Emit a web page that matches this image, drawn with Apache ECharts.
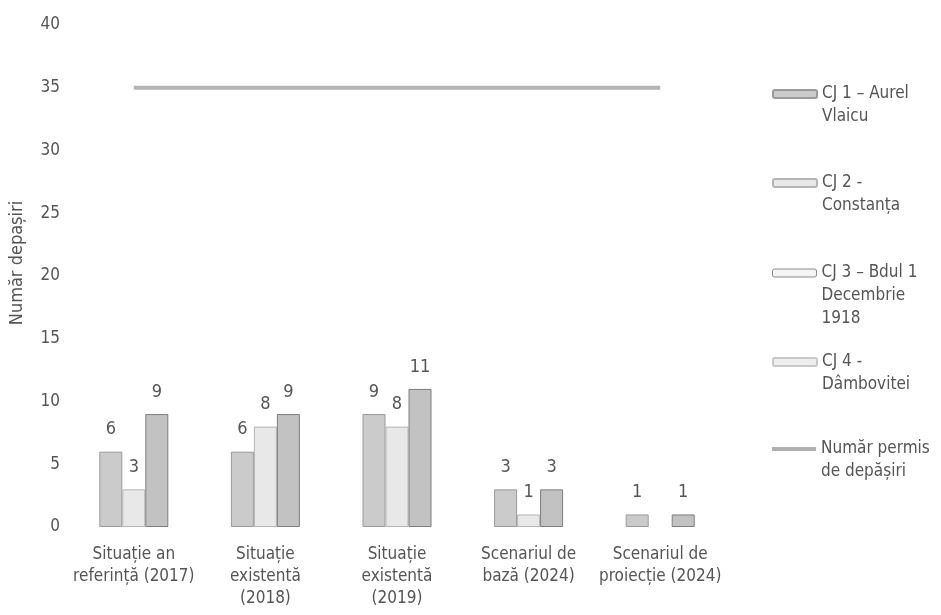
<!DOCTYPE html>
<html>
<head>
<meta charset="utf-8">
<script src="https://cdn.jsdelivr.net/npm/echarts@6/dist/echarts.min.js"></script>
<style>
  html, body { margin: 0; padding: 0; background: #fff; }
  #chart { width: 941px; height: 615px; }
</style>
</head>
<body>
<div id="chart"></div>
<script>
// ---- data ----
const categories = [
  'Situație an\nreferință (2017)',
  'Situație\nexistentă\n(2018)',
  'Situație\nexistentă\n(2019)',
  'Scenariul de\nbază (2024)',
  'Scenariul de\nproiecție (2024)'
];
const cj1 = [6, 6, 9, 3, 1];
const cj2 = [3, 8, 8, 1, null];
const cj3 = [9, 9, 11, 3, 1];
const cj4 = [null, null, null, null, null]; // no bars drawn for CJ 4
const permis = [35, 35, 35, 35, 35];

const names = [
  'CJ 1 – Aurel\nVlaicu',
  'CJ 2 -\nConstanța',
  'CJ 3 – Bdul 1\nDecembrie\n1918',
  'CJ 4 -\nDâmbovitei',
  'Număr permis\nde depășiri'
];

//--------------------- Styles ---------------------------//
const font = "'Liberation Sans Narrow', 'DejaVu Sans Condensed', 'Arial Narrow', sans-serif";
const textColor = '#555';
const lineH = 23;

// one legend per entry so each can sit where the scan puts it;
// blank lines on top keep the icon level with the first text line
function legendFor(item, iconCenter, lines, iconH) {
  return {
    data: [item],
    orient: 'vertical',
    left: 772,
    top: iconCenter - (2 * lines - 1) * lineH / 2,
    padding: 0,
    itemWidth: 44,
    itemHeight: iconH,
    itemGap: 4,
    selectedMode: false,
    formatter: (name) => '\n'.repeat(lines - 1) + name,
    textStyle: {
      fontFamily: font,
      fontSize: 17,
      color: textColor,
      lineHeight: lineH
    }
  };
}

const barLabel = {
  show: true,
  position: 'top',
  distance: 13,
  fontFamily: font,
  fontSize: 18,
  color: textColor
};

//--------------------- Chart ---------------------------//
const myChart = echarts.init(document.getElementById('chart'));
const option = {
  backgroundColor: '#fff',
  animation: false,
  grid: { left: 66, right: 215, top: 25, bottom: 88 },
  legend: [
    legendFor(names[0], 94, 2, 8),
    legendFor(names[1], 183, 2, 8),
    legendFor({ name: names[2], itemStyle: { color: '#f4f4f4', borderColor: '#8a8a8a', borderWidth: 1 } }, 273, 3, 8),
    legendFor(names[3], 362, 2, 8),
    legendFor({ name: names[4], icon: 'rect', itemStyle: { color: '#b0b0b0' } }, 449, 2, 4)
  ],
  xAxis: [
    {
      type: 'category',
      data: categories,
      axisLine: { show: false },
      axisTick: { show: false },
      axisLabel: {
        interval: 0,
        margin: 17,
        fontFamily: font,
        fontSize: 17,
        lineHeight: 22,
        color: textColor
      }
    },
    { type: 'category', data: categories, show: false }
  ],
  yAxis: {
    type: 'value',
    min: 0,
    max: 40,
    interval: 5,
    name: 'Număr depașiri',
    nameLocation: 'middle',
    nameGap: 42,
    nameTextStyle: {
      fontFamily: font,
      fontSize: 18,
      color: textColor,
      padding: [0, 0, 0, 26]
    },
    axisLine: { show: false },
    axisTick: { show: false },
    splitLine: { show: false },
    axisLabel: {
      margin: 8,
      fontFamily: font,
      fontSize: 17,
      color: textColor
    }
  },
  series: [
    {
      name: names[0], type: 'bar', data: cj1,
      barWidth: 23, barGap: '0%',
      itemStyle: { color: '#cbcbcb', borderColor: '#9a9a9a', borderWidth: 1 },
      label: barLabel
    },
    {
      name: names[1], type: 'bar', data: cj2,
      barWidth: 23, barGap: '0%',
      itemStyle: { color: '#e8e8e8', borderColor: '#b4b4b4', borderWidth: 1 },
      label: barLabel
    },
    {
      name: names[2], type: 'bar', data: cj3,
      barWidth: 23, barGap: '0%',
      itemStyle: { color: '#c2c2c2', borderColor: '#7e7e7e', borderWidth: 1 },
      label: barLabel
    },
    {
      name: names[3], type: 'bar', data: cj4,
      xAxisIndex: 1,
      barWidth: 23,
      itemStyle: { color: '#eeeeee', borderColor: '#c8c8c8', borderWidth: 1 }
    },
    {
      name: names[4], type: 'line', data: permis,
      symbol: 'none',
      lineStyle: { color: '#b4b4b4', width: 4 },
      itemStyle: { color: '#b4b4b4' },
      z: 1
    }
  ]
};
myChart.setOption(option);
</script>
</body>
</html>
